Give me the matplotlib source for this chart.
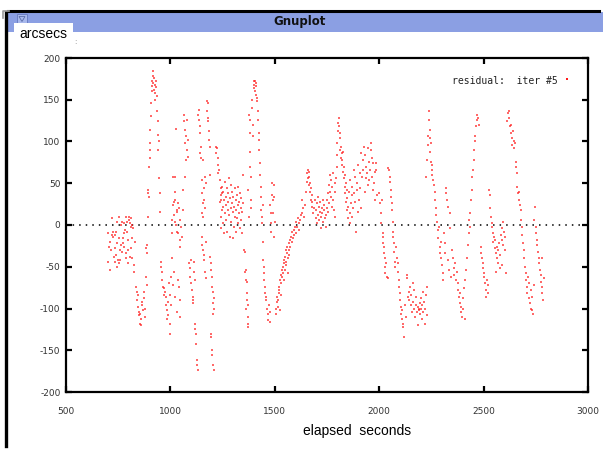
import matplotlib
matplotlib.use("Agg")
import matplotlib.pyplot as plt
from matplotlib.patches import Rectangle, Polygon
from matplotlib.lines import Line2D

# ---------------- data (elapsed seconds, residual arcsec) ----------------
seg_700 = [(703,-10),(706,-26),(700,-44),(709,-54),(712,-20),(716,-30),(720,-12),(724,-8),(727,-14),(730,-38),
           (733,-12),(736,-28),(740,-36),(743,-50),(746,-22),(750,-42),(752,-46),(755,10),(758,-30),(762,0),
           (765,-24),(768,-32),(771,-22),(774,-16),(777,-10),(780,-26),(783,-6),(786,-34),(790,-8),(793,4),
           (796,-30),(799,-18),(802,6),(805,-38),(808,2),(811,8),(814,-16),(817,-40),(820,-4),(824,-48),
           (827,-56),(830,-20),(741,-8),(760,-42),(785,-40),(795,-46),(810,-28),(735,-44),(752,-16),(770,4),
           (788,10),(815,0),(719,8),(745,4),(776,2),(800,10),(812,-2)]
seg_840 = [(834,-74),(838,-80),(842,-90),(845,-98),(848,-104),(850,-108),(853,-118),(856,-106),(858,-120),
           (862,-92),(865,-96),(869,-102),(872,-88),(876,-110),(879,-100),(883,-62),(886,-72),(847,-84),
           (860,-112),(874,-80)]
seg_930 = [(884,-28),(888,-34),(889,-24),(891,10),(892,38),(895,42),(896,34),(898,70),(900,98),(902,90),
           (903,80),(904,114),(905,130),(907,146),(910,160),(912,172),(914,166),(916,178),(918,185),(919,170),
           (920,162),(922,176),(924,150),(926,168),(928,158),(930,172),(932,165),(934,154),(937,136),(940,124),
           (942,108),(943,90),(945,100),(947,56),(948,38),(950,16)]
seg_980 = [(953,-44),(957,-50),(958,-56),(962,-66),(964,-74),(968,-76),(970,-84),(975,-80),(978,-86),(980,-96),
           (982,-102),(985,-112),(988,-92),(990,-108),(993,-70),(996,-84),(998,-130),(1000,-118),(1003,-62),
           (1005,-96),(1008,-40),(1012,-72),(1018,-56),(1022,-86),(1030,-104),(1038,-66),(1040,-74),
           (1044,-110),(1046,-90)]
seg_1050 = [(1008,6),(1010,-10),(1014,24),(1016,12),(1018,28),(1021,58),(1024,40),(1025,115),(1027,0),(1030,-8),
            (1034,18),(1036,-10),(1038,26),(1041,20),(1044,6),(1046,-26),(1048,-18),(1050,-2),(1055,-14),
            (1060,42),(1062,18),(1064,132),(1066,124),(1068,58),(1070,114),(1072,98),(1074,78),(1076,106),
            (1078,126),(1080,90),(1083,82),(1086,102),(1014,58),(1022,30),(1030,16),(1024,4)]
seg_1110 = [(1090,-46),(1093,-62),(1096,-52),(1100,-70),(1103,-78),(1106,-86),(1109,-90),(1112,-56),(1114,-44),
            (1116,-66),(1118,-118),(1120,-124),(1122,-130),(1124,-142),(1126,-162),(1128,-168),(1130,-174),
            (1108,-94),(1098,-42)]
seg_1160 = [(1134,132),(1136,138),(1138,126),(1140,118),(1142,110),(1144,86),(1146,94),(1148,80),(1150,54),
            (1152,38),(1153,14),(1155,26),(1157,10),(1158,78),(1160,30),(1162,44),(1164,20),(1168,58),(1172,50),
            (1174,148),(1176,136),(1178,124),(1180,128),(1182,146),(1184,112),(1186,102),(1188,94),(1190,60),
            (1150,-14),(1153,-24),(1157,-30),(1160,-42),(1163,-36),(1166,-56),(1170,-64),(1172,-20)]
seg_1200 = [(1192,-38),(1194,-46),(1196,-54),(1198,-62),(1200,-74),(1202,-80),(1204,-94),(1206,-106),(1208,-88),
            (1193,-130),(1196,-134),(1199,-150),(1201,-156),(1205,-168),(1208,-174),(1211,-100)]
seg_1230 = [(1216,94),(1218,86),(1222,92),(1226,80),(1228,62),(1230,72),(1234,66),(1238,54),(1240,44),(1244,30),
            (1246,38)]
seg_1290 = [(1238,28),(1240,10),(1242,36),(1244,-4),(1246,18),(1248,46),(1250,22),(1252,2),(1254,40),(1256,30),
            (1258,-10),(1260,14),(1262,52),(1264,34),(1266,6),(1268,24),(1270,44),(1272,-8),(1274,18),(1276,38),
            (1278,28),(1280,56),(1282,12),(1284,-14),(1286,32),(1288,20),(1290,48),(1292,4),(1294,26),(1296,40),
            (1298,-16),(1300,16),(1302,34),(1304,22),(1306,-2),(1308,44),(1310,10),(1312,30),(1314,18),(1316,-8),
            (1318,36),(1320,8),(1322,24),(1324,46),(1326,2),(1328,28),(1330,14),(1332,-4),(1334,38),(1336,20),
            (1338,6),(1340,32),(1342,-10),(1344,16),(1346,60),(1348,26)]
seg_1360 = [(1352,-30),(1355,-32),(1358,-56),(1360,-54),(1362,-66),(1365,-68),(1367,-82),(1368,-90),(1370,-96),
            (1371,-110),(1373,-118),(1374,-122),(1363,-100)]
seg_1400 = [(1374,42),(1376,10),(1377,132),(1379,126),(1380,110),(1382,88),(1383,70),(1384,58),(1386,30),(1388,20),
            (1390,150),(1392,140),(1394,120),(1396,106),(1398,172),(1400,168),(1402,164),(1404,172),(1406,160),
            (1408,170),(1410,166),(1412,156),(1414,152),(1416,148),(1418,136),(1420,126),(1422,110),(1424,90),
            (1426,102),(1428,74),(1430,60),(1432,46),(1434,34),(1436,18),(1438,10),(1440,2),(1442,24)]
seg_1460 = [(1442,-20),(1444,-42),(1446,-50),(1448,-58),(1450,-66),(1452,-74),(1455,-82),(1458,-90),(1460,-86),
            (1463,-100),(1466,-106),(1469,-114),(1472,-96),(1475,-104),(1478,-116)]
seg_1490 = [(1478,24),(1480,14),(1482,2),(1484,-8),(1486,36),(1488,50),(1490,30),(1492,14),(1494,-14),(1496,48),
            (1498,34),(1500,4)]
seg_1560 = [(1505,-106),(1508,-100),(1510,-92),(1512,-86),(1514,-98),(1516,-90),(1518,-82),(1520,-74),(1522,-78),
            (1524,-102),(1526,-66),(1528,-70),(1530,-60),(1532,-84),(1534,-54),(1536,-62),(1538,-50),(1540,-58),
            (1542,-46),(1544,-66),(1546,-42),(1548,-54),(1550,-38),(1552,-48),(1554,-30),(1556,-44),(1558,-34),
            (1560,-26),(1562,-40),(1564,-58),(1566,-30),(1568,-22),(1570,-36),(1572,-18),(1575,-26),(1578,-14),
            (1580,-20),(1583,-8),(1586,-16),(1590,-6),(1593,-12),(1596,-2),(1600,4),(1603,-10),(1606,-2),
            (1610,8),(1614,2),(1618,-6),(1622,6),(1626,12)]
seg_1660 = [(1628,14),(1632,30),(1636,20),(1640,10),(1644,24),(1648,40),(1652,52),(1655,62),(1658,66),(1660,56),
            (1662,64),(1664,48),(1666,58),(1668,50),(1670,40),(1672,44),(1674,30),(1676,36),(1678,22),(1680,28),
            (1684,14),(1688,20)]
seg_1740 = [(1692,30),(1695,8),(1698,18),(1700,26),(1703,2),(1706,12),(1708,34),(1710,22),(1713,6),(1716,16),
            (1718,28),(1720,10),(1723,-4),(1726,20),(1728,14),(1730,30),(1733,4),(1736,18),(1738,24),(1740,8),
            (1743,12),(1746,-2),(1748,20),(1750,30),(1753,16),(1756,38),(1758,26),(1760,48),(1763,60),(1766,40),
            (1768,54),(1770,34),(1773,22),(1776,46),(1778,62),(1780,30),(1783,18),(1786,50),(1788,40),(1790,10),
            (1793,56),(1796,70),(1798,84)]
seg_1840 = [(1800,98),(1802,112),(1804,122),(1806,128),(1808,118),(1810,104),(1812,110),(1814,90),(1816,80),
            (1818,94),(1820,86),(1822,72),(1824,78),(1826,64),(1828,88),(1830,56),(1832,70),(1834,46),(1836,60),
            (1838,38),(1840,50),(1842,28),(1844,42),(1846,18),(1848,32),(1850,22),(1852,8),(1855,40),(1858,14),
            (1860,54),(1862,2),(1865,26),(1868,46),(1870,36),(1872,10),(1874,20),(1877,66),(1880,38)]
seg_1940 = [(1883,58),(1886,28),(1889,-8),(1892,50),(1894,42),(1897,72),(1900,16),(1903,30),(1906,62),(1909,44),
            (1912,20),(1915,86),(1918,58),(1921,78),(1924,66),(1927,94),(1930,40),(1933,84),(1936,56),(1939,70),
            (1942,62),(1945,92),(1948,48),(1950,76),(1953,54),(1956,66),(1959,98),(1961,90),(1964,58),(1967,80),
            (1970,42),(1972,74),(1975,50),(1978,64),(1981,30),(1984,66),(1987,74),(1990,36)]
seg_2020 = [(2001,38),(2004,26),(2007,14),(2010,2),(2013,30),(2016,-10),(2018,-14),(2020,-22),(2022,-26),
            (2024,-34),(2026,-40),(2028,-50),(2030,-58),(2033,-46),(2036,-62),(2040,-64)]
seg_2060 = [(2044,68),(2047,66),(2050,58),(2052,52),(2055,42),(2058,34),(2060,26),(2062,18),(2064,4),(2066,-8),
            (2068,-14),(2070,-22),(2073,-32),(2076,-44),(2078,-50)]
seg_2120 = [(2082,-26),(2085,-40),(2088,-46),(2090,-56),(2093,-66),(2096,-74),(2098,-82),(2100,-90),(2103,-98),
            (2106,-106),(2108,-102),(2110,-112),(2113,-118),(2116,-122),(2120,-134),(2124,-96),(2128,-110),
            (2132,-60),(2135,-64),(2138,-86),(2141,-80),(2144,-90),(2147,-74),(2150,-96),(2153,-84),(2156,-104)]
seg_2195 = [(2160,-70),(2163,-92),(2166,-78),(2169,-100),(2172,-110),(2175,-86),(2178,-96),(2181,-104),
            (2184,-120),(2187,-98),(2190,-100),(2192,-102),(2194,-94),(2196,-106),(2198,-100),(2200,-88),
            (2203,-112),(2206,-96),(2209,-80),(2212,-104),(2215,-92),(2218,-118),(2221,-100),(2224,-84),
            (2227,-74),(2230,-108)]
seg_2240 = [(2226,58),(2229,78),(2232,96),(2235,106),(2237,136),(2239,126),(2241,114),(2243,104),(2245,88),
            (2247,98),(2249,76),(2251,66),(2253,72),(2255,60),(2258,54)]
seg_2300 = [(2262,48),(2265,40),(2268,30),(2271,20),(2274,12),(2277,4),(2280,-6),(2283,-16),(2286,-2),(2289,-26),
            (2292,-34),(2295,-20),(2298,-40),(2301,-48),(2304,-58),(2307,-66),(2310,-10),(2313,-22),(2316,-34),
            (2319,44),(2322,38),(2325,30),(2328,22),(2331,-42),(2334,-54),(2337,14),(2340,-4),(2343,-62)]
seg_2385 = [(2348,-30),(2352,-40),(2356,-52),(2360,-60),(2364,-46),(2368,-66),(2372,-56),(2376,-70),(2379,-78),
            (2382,-86),(2385,-94),(2388,-82),(2391,-98),(2394,-104),(2397,-110),(2400,-88),(2403,-100),
            (2406,-76),(2409,-112),(2412,-66),(2416,-54),(2420,-40),(2424,-24)]
seg_2450 = [(2428,-10),(2431,6),(2434,14),(2437,-2),(2440,30),(2443,42),(2446,58),(2449,66),(2452,78),(2455,90),
            (2458,100),(2461,106),(2464,118),(2467,126),(2470,132),(2473,128),(2476,120)]
seg_2500 = [(2486,-26),(2489,-34),(2492,-40),(2495,-46),(2498,-52),(2501,-58),(2504,-62),(2507,-70),(2510,-78),
            (2513,-86),(2516,-66),(2519,-72),(2522,-82)]
seg_2570 = [(2526,42),(2529,36),(2532,20),(2535,10),(2538,-2),(2541,2),(2544,-10),(2547,-20),(2550,-14),
            (2553,-28),(2556,-18),(2559,-34),(2562,-26),(2565,-40),(2568,-30),(2571,-46),(2574,-22),(2577,-36),
            (2580,-52),(2583,-12),(2586,-4),(2589,-18),(2592,4),(2595,-24),(2598,-8),(2601,-30),(2604,-14),
            (2607,-58),(2560,-56),(2590,-48)]
seg_2640 = [(2614,124),(2617,134),(2620,136),(2623,128),(2626,118),(2629,110),(2632,120),(2635,104),(2638,96),
            (2641,112),(2644,100),(2647,92),(2650,98),(2653,76),(2656,70),(2659,62),(2662,46),(2665,38),
            (2668,30),(2671,40),(2674,24),(2677,18),(2680,6)]
seg_2710 = [(2683,-2),(2686,-12),(2689,-22),(2692,-30),(2695,-40),(2698,-50),(2701,-58),(2704,-66),(2707,-74),
            (2710,-82),(2713,-62),(2716,-70),(2719,-88),(2722,-94),(2725,-78),(2728,-100),(2731,-86),
            (2734,-102),(2737,-106),(2740,-72)]
seg_2770 = [(2743,6),(2746,22),(2749,-2),(2752,-10),(2755,-18),(2758,-24),(2761,-32),(2764,-40),(2767,-46),
            (2770,-54),(2773,-60),(2776,-68),(2779,-74),(2782,-82),(2785,-90),(2788,-64),(2780,-40)]

segments = [seg_700, seg_840, seg_930, seg_980, seg_1050, seg_1110, seg_1160, seg_1200, seg_1230, seg_1290,
            seg_1360, seg_1400, seg_1460, seg_1490, seg_1560, seg_1660, seg_1740, seg_1840, seg_1940, seg_2020,
            seg_2060, seg_2120, seg_2195, seg_2240, seg_2300, seg_2385, seg_2450, seg_2500, seg_2570, seg_2640,
            seg_2710, seg_2770]

x_ticks = [500, 1000, 1500, 2000, 2500, 3000]
y_ticks = [-200, -150, -100, -50, 0, 50, 100, 150, 200]
legend_label = "residual:  iter #5"
legend_key = (2900, 175)

elapsed = [p[0] for s in segments for p in s]
resid = [p[1] for s in segments for p in s]

# ---------------- figure ----------------
W, H = 603, 450
fig = plt.figure(figsize=(W / 100, H / 100), dpi=100)
fig.patch.set_facecolor("white")

def fx(x):
    return x / W

def fy(y):
    return 1 - y / H

# window chrome
fig.add_artist(Rectangle((fx(5), fy(32)), fx(603) - fx(5), fy(12) - fy(32),
                         transform=fig.transFigure, facecolor="#8b9fe3", edgecolor="none"))
fig.add_artist(Line2D([fx(8), fx(599)], [fy(11), fy(11)], transform=fig.transFigure,
                      color="black", lw=2.2))
fig.add_artist(Line2D([fx(5.5), fx(5.5)], [fy(12), fy(446)], transform=fig.transFigure,
                      color="black", lw=2.4))
fig.add_artist(Line2D([fx(3), fx(3), fx(9)], [fy(18), fy(11), fy(11)], transform=fig.transFigure,
                      color="#9a9a9a", lw=1.2))
fig.add_artist(Rectangle((fx(17), fy(24)), fx(10), fy(14) - fy(24), transform=fig.transFigure,
                         facecolor="#a8b8ec", edgecolor="#6c7fc4", lw=0.7))
fig.add_artist(Polygon([[fx(19), fy(16.5)], [fx(25), fy(16.5)], [fx(22), fy(21.5)]], closed=True,
                       transform=fig.transFigure, facecolor="none", edgecolor="#5b6da8", lw=0.6))
fig.text(fx(300), fy(21.5), "Gnuplot", ha="center", va="center", fontsize=8.5,
         fontweight="bold", family="DejaVu Sans", color="#111111")
fig.add_artist(Rectangle((fx(14), fy(43)), fx(73) - fx(14), fy(23) - fy(43),
                         transform=fig.transFigure, facecolor="white", edgecolor="none"))
fig.text(fx(43.5), fy(34), "arcsecs", ha="center", va="center", fontsize=10,
         family="Liberation Sans", color="black")
fig.text(fx(74), fy(41.5), ":", ha="left", va="center", fontsize=5, color="#888888")

# axes
ax = fig.add_axes([fx(66), fy(392), fx(588) - fx(66), fy(58) - fy(392)])
ax.set_xlim(500, 3000)
ax.set_ylim(-200, 200)
ax.set_xticks(x_ticks)
ax.set_yticks(y_ticks)
ax.set_xticklabels([str(v) for v in x_ticks])
ax.set_yticklabels([str(v) for v in y_ticks])
for sp in ax.spines.values():
    sp.set_linewidth(1.6)
    sp.set_color("black")
ax.tick_params(direction="in", length=4, width=1.6, top=True, right=True,
               labelsize=6.5, labelcolor="#333333")
ax.tick_params(axis="x", pad=11)
ax.tick_params(axis="y", pad=4)

ax.axhline(0, color="black", lw=1.1, linestyle=(0, (1, 3.3)), zorder=1)
ax.scatter(elapsed, resid, s=1.6, marker="s", c="#ff1a1a", linewidths=0, alpha=0.65, zorder=2)

# legend-like key
ax.text(0.74, 0.93, legend_label, transform=ax.transAxes, ha="left", va="center",
        fontsize=7, family="DejaVu Sans Mono", color="#222222")
ax.scatter([legend_key[0]], [legend_key[1]], s=1.6, marker="s", c="#ff1a1a", linewidths=0)

fig.text(fx(357), fy(431), "elapsed  seconds", ha="center", va="center", fontsize=10,
         family="Liberation Sans", color="black")

fig.savefig("out.png", dpi=100)
